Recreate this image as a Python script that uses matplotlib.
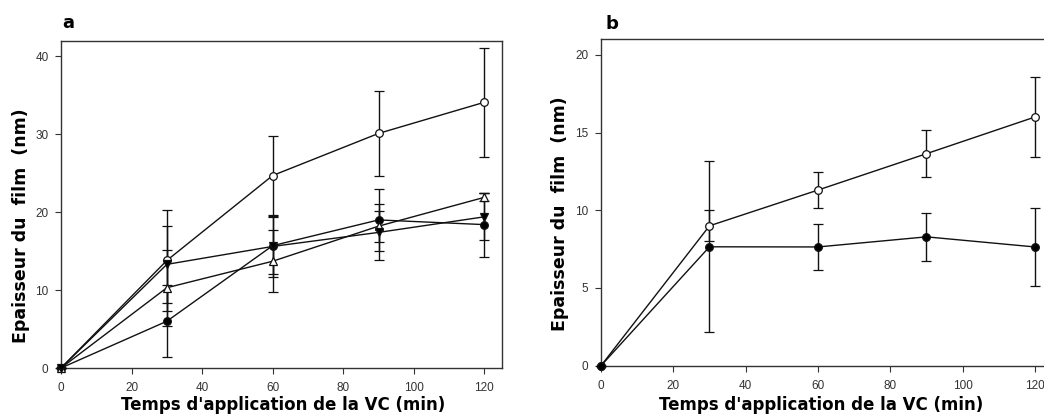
import matplotlib
matplotlib.use("Agg")
import matplotlib.pyplot as plt
import numpy as np

# temps d'application (min)
t = [0, 30, 60, 90, 120]

# panneau a
a_open = [0, 13.8, 24.7, 30.1, 34.1]
a_open_err = [0, 6.5, 5.1, 5.5, 7.0]
a_fill = [0, 6.0, 15.7, 19.0, 18.4]
a_fill_err = [0, 4.6, 3.7, 4.0, 4.1]
a_tri_up = [0, 10.3, 13.7, 18.2, 21.9]
a_tri_up_err = [0, 4.9, 4.0, 2.0, 0.5]
a_tri_dn = [0, 13.3, 15.6, 17.4, 19.4]
a_tri_dn_err = [0, 4.9, 3.9, 3.6, 3.0]

# panneau b
b_open = [0, 9.0, 11.3, 13.64, 16.0]
b_open_err = [0, 1.0, 1.15, 1.5, 2.6]
b_fill = [0, 7.65, 7.64, 8.29, 7.64]
b_fill_err = [0, 5.5, 1.5, 1.53, 2.5]

xticks = [0, 20, 40, 60, 80, 100, 120]

fig = plt.figure(figsize=(10.44, 4.15), dpi=100)
ax_a = fig.add_axes([61/1044, 47/415, 441/1044, 327.3/415])
ax_b = fig.add_axes([601/1044, 49.3/415, 452/1044, 326.4/415])


def serie(ax, y, err, marker, face):
    ax.errorbar(t, y, yerr=err, color='#111111', lw=1.0, elinewidth=1.0,
                capsize=3.5, capthick=1.0, marker=marker, ms=5.5,
                mfc=face, mec='#111111', mew=0.9, zorder=3, clip_on=False)


serie(ax_a, a_open, a_open_err, 'o', 'white')
serie(ax_a, a_fill, a_fill_err, 'o', 'black')
serie(ax_a, a_tri_up, a_tri_up_err, '^', 'white')
serie(ax_a, a_tri_dn, a_tri_dn_err, 'v', 'black')

serie(ax_b, b_open, b_open_err, 'o', 'white')
serie(ax_b, b_fill, b_fill_err, 'o', 'black')

ax_a.set_ylim(0, 42)
ax_a.set_yticks([0, 10, 20, 30, 40])
ax_b.set_ylim(0, 21)
ax_b.set_yticks([0, 5, 10, 15, 20])

for ax in (ax_a, ax_b):
    ax.set_xlim(0, 125)
    ax.set_xticks(xticks)
    ax.tick_params(direction='out', length=4, width=0.8, color='#333333',
                   labelsize=8.5, labelcolor='#333333', top=False, right=False)
    ax.tick_params(axis='x', pad=6)
    ax.tick_params(axis='y', pad=5)
    for lab in ax.get_xticklabels() + ax.get_yticklabels():
        lab.set_family('Liberation Sans')
    for s in ax.spines.values():
        s.set_color('#333333')
        s.set_linewidth(1.0)
    ax.set_xlabel("Temps d'application de la VC (min)", fontsize=12,
                  fontweight='bold', va='center')
    ax.set_ylabel("Epaisseur du  film  (nm)", fontsize=12.5,
                  fontweight='bold', va='center')

ax_a.xaxis.set_label_coords(0.503, -0.113)
ax_b.xaxis.set_label_coords(0.488, -0.120)
ax_a.yaxis.set_label_coords(-0.0914, 0.434)
ax_b.yaxis.set_label_coords(-0.0907, 0.466)

fig.text(68/1044, 1 - 23/415, 'a', fontsize=13, fontweight='bold',
         ha='center', va='center')
fig.text(612/1044, 1 - 24/415, 'b', fontsize=13, fontweight='bold',
         ha='center', va='center')

fig.savefig('out.png', dpi=100)
